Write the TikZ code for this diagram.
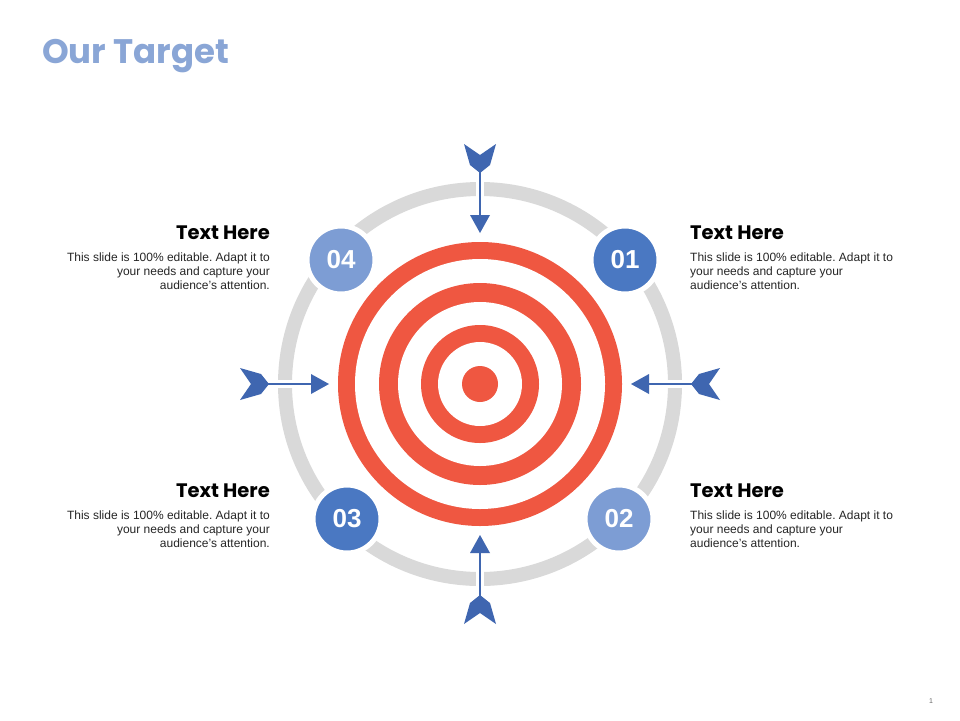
\documentclass[tikz,border=0pt]{standalone}
\usepackage{fontspec}
\setmainfont{Liberation Sans}
\newfontfamily\headfont{Poppins}
\definecolor{tred}{HTML}{EF5741}
\definecolor{tgrey}{HTML}{D9D9D9}
\definecolor{lblue}{HTML}{7D9DD4}
\definecolor{dblue}{HTML}{4A78C2}
\definecolor{ablue}{HTML}{3F66B0}
\definecolor{ttl}{HTML}{8AA6D6}
\tikzset{
  numdisc/.style={circle, draw=white, line width=5pt, minimum size=68pt, inner sep=0pt, text=white, font=\fontsize{26}{26}\selectfont\bfseries},
  heading/.style={inner sep=0pt, font=\headfont\fontsize{19.5}{20}\selectfont\bfseries},
  bodytext/.style={inner sep=0pt, font=\fontsize{12}{14}\selectfont\frenchspacing, text=black!85},
  fletch/.style={fill=ablue, draw=none},
  shaft/.style={draw=ablue, line width=1.6pt},
}
\newcommand{\targetarrow}{%
  \fill[fletch] (-16,-240) -- (0,-229) -- (16,-240) -- (10,-219) -- (0,-211) -- (-10,-219) -- cycle;
  \draw[shaft] (0,-213) -- (0,-168);
  \fill[fletch] (-10,-169) -- (10,-169) -- (0,-151) -- cycle;
}
\begin{document}
\begin{tikzpicture}[x=1pt,y=-1pt]
\useasboundingbox[fill=white] (0,0) rectangle (960,720);
% title
\node[anchor=base west, inner sep=0pt, text=ttl, font=\headfont\fontsize{34}{36}\selectfont\bfseries] (title) at (42,63) {Our Target};
% grey ring
\coordinate (c) at (480,384);
\draw[tgrey, line width=14pt] (c) circle[radius=195pt];
\foreach \a in {0,90,180,270}{
  \begin{scope}[shift={(c)}, rotate=\a]
    \draw[white, line width=8pt] (0,-180) -- (0,-210);
  \end{scope}
}
% target
\fill[tred] (c) circle[radius=142pt];
\fill[white] (c) circle[radius=125pt];
\fill[tred] (c) circle[radius=101pt];
\fill[white] (c) circle[radius=82pt];
\fill[tred] (c) circle[radius=59pt];
\fill[white] (c) circle[radius=42pt];
\fill[tred] (c) circle[radius=18pt];
% arrows
\foreach \a in {0,90,180,270}{
  \begin{scope}[shift={(c)}, rotate=\a]
    \targetarrow
  \end{scope}
}
% numbered discs
\node[numdisc, fill=dblue] (n1) at (625,260) {01};
\node[numdisc, fill=lblue] (n2) at (619,519) {02};
\node[numdisc, fill=dblue] (n3) at (347,519) {03};
\node[numdisc, fill=lblue] (n4) at (341,260) {04};
% texts right
\node[heading, anchor=base west] (h1) at (690,239) {Text Here};
\node[bodytext, anchor=north west, align=left] (b1) at (690,253) {This slide is 100\% editable. Adapt it to\\your needs and capture your\\audience's attention.};
\node[heading, anchor=base west] (h2) at (690,497) {Text Here};
\node[bodytext, anchor=north west, align=left] (b2) at (690,511) {This slide is 100\% editable. Adapt it to\\your needs and capture your\\audience's attention.};
% texts left
\node[heading, anchor=base east] (h4) at (270,239) {Text Here};
\node[bodytext, anchor=north east, align=right] (b4) at (270,253) {This slide is 100\% editable. Adapt it to\\your needs and capture your\\audience's attention.};
\node[heading, anchor=base east] (h3) at (270,497) {Text Here};
\node[bodytext, anchor=north east, align=right] (b3) at (270,511) {This slide is 100\% editable. Adapt it to\\your needs and capture your\\audience's attention.};
% page number
\node[inner sep=0pt, text=black!60, font=\fontsize{7}{8}\selectfont] (pg) at (931,701) {1};
\end{tikzpicture}
\end{document}
